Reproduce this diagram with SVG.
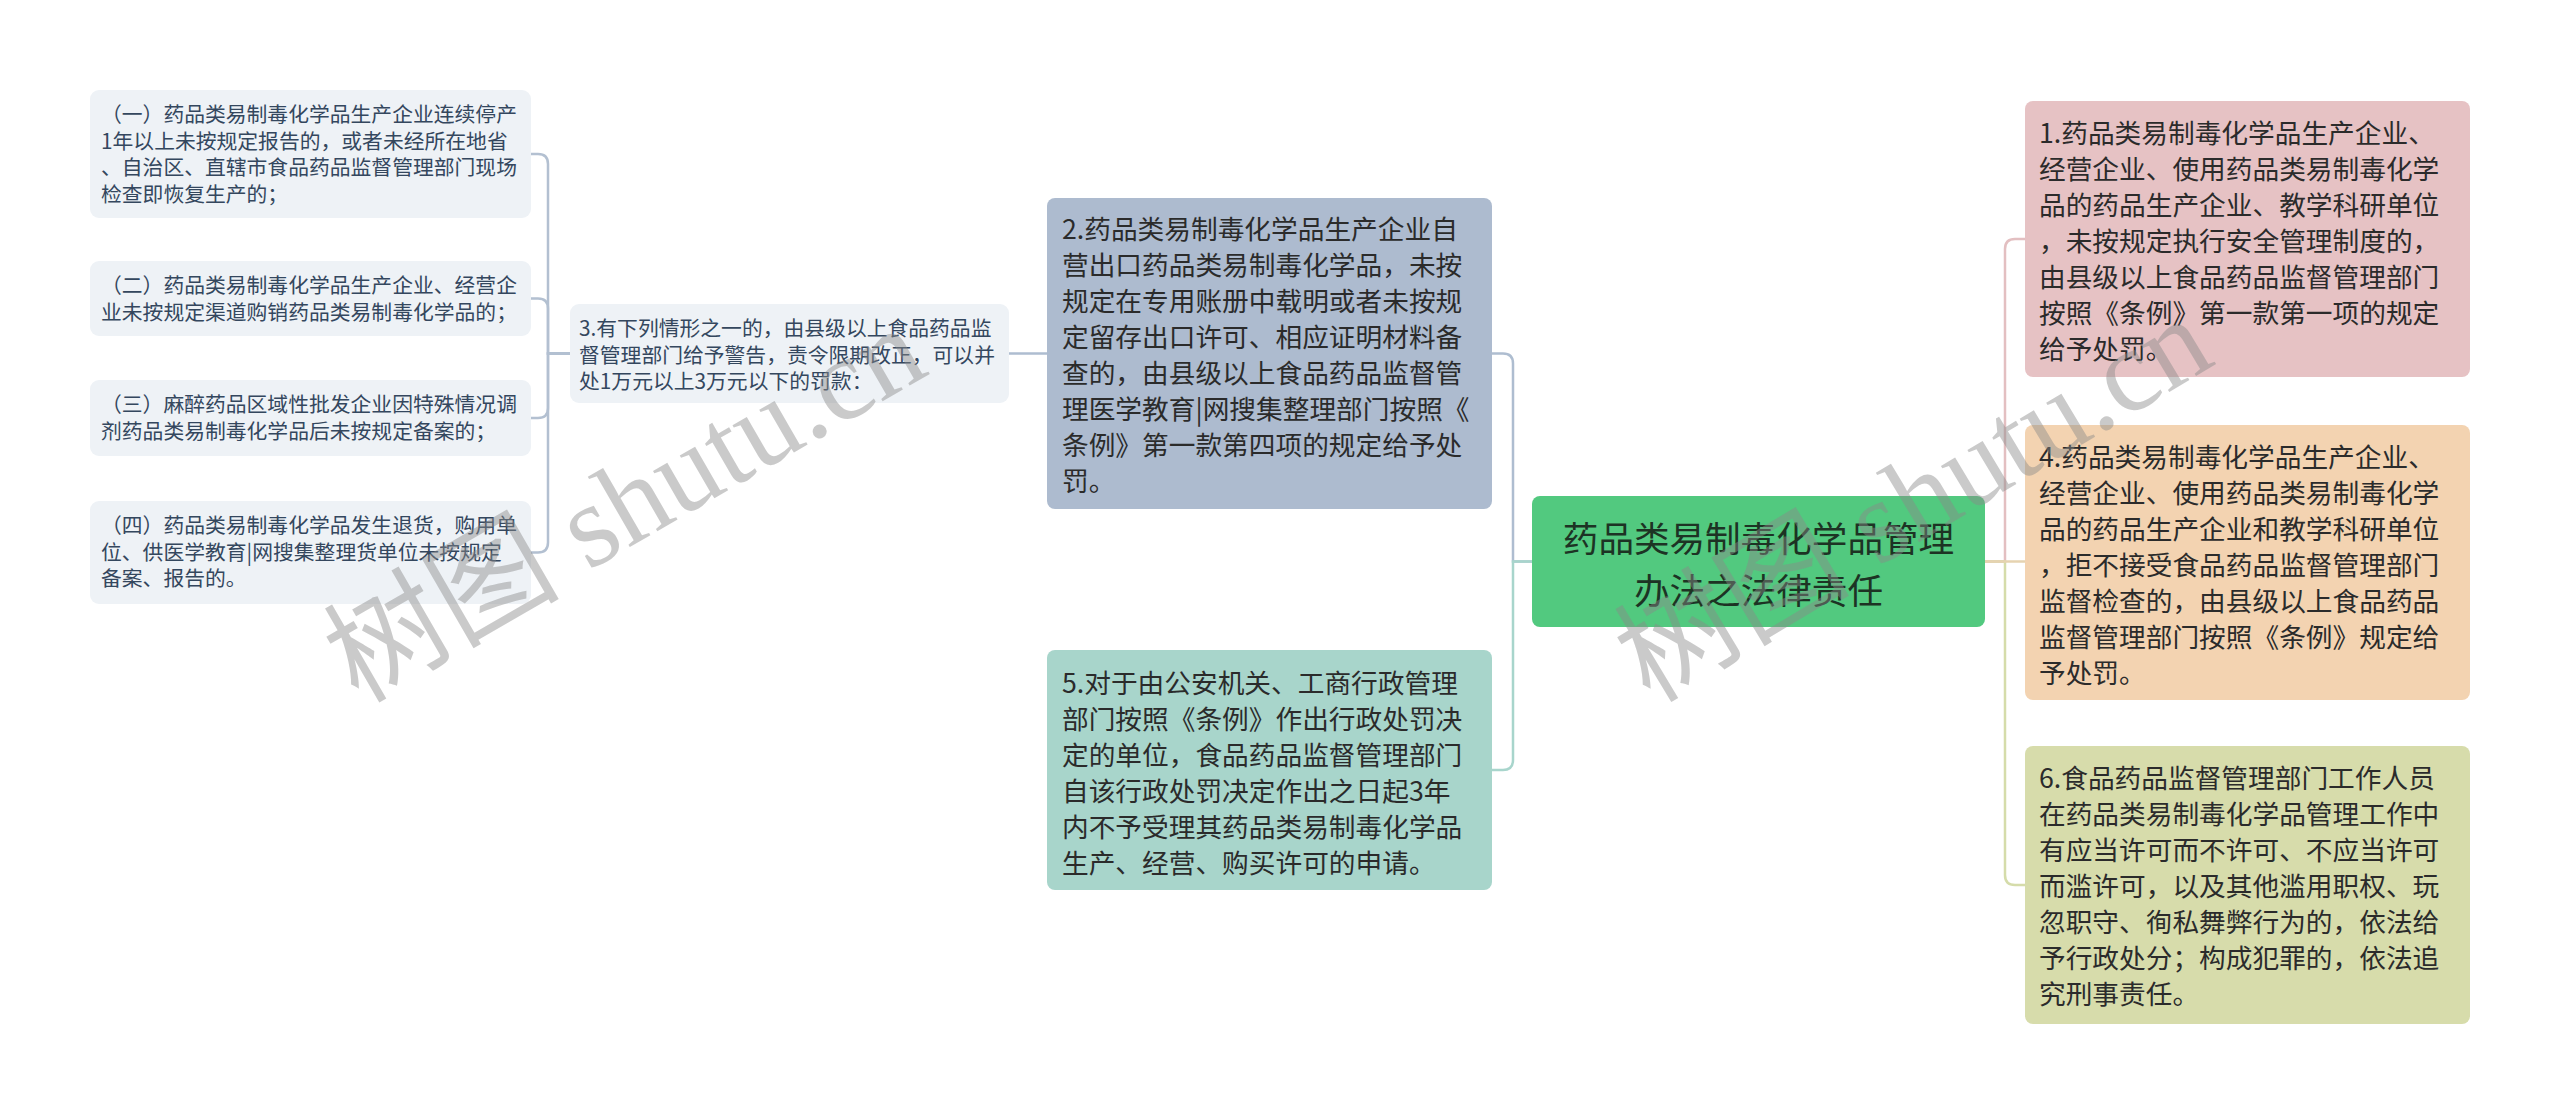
<svg xmlns="http://www.w3.org/2000/svg" width="2560" height="1113" viewBox="0 0 2560 1113">
<style>
.t{font-family:"Noto Sans CJK SC","Noto Sans",sans-serif}
.sm{font-size:20.8px;fill:#34475e}
.md{font-size:26.7px;fill:#2b2b2b}
.lg{font-size:35.6px;fill:#1d3324;text-anchor:middle}
.leaf{fill:#eef2f6}
.c{fill:none;stroke-width:2.5}
.wm{font-family:"Liberation Serif","Noto Sans CJK SC",serif;font-size:118px;fill:#8a8a8a;fill-opacity:0.45}
</style>
<rect width="2560" height="1113" fill="#ffffff"/>
<g id="connectors">
<path class="c" stroke="#b3c0d1" d="M570,353.5 H548 V164 Q548,154 538,154 H531"/>
<path class="c" stroke="#b3c0d1" d="M570,353.5 H548 V308.5 Q548,298.5 538,298.5 H531"/>
<path class="c" stroke="#b3c0d1" d="M570,353.5 H548 V408 Q548,418 538,418 H531"/>
<path class="c" stroke="#b3c0d1" d="M570,353.5 H548 V542.5 Q548,552.5 538,552.5 H531"/>
<path class="c" stroke="#aebdd0" d="M1047,353.5 H1009"/>
<path class="c" stroke="#aebdd0" d="M1532,561.5 H1513 V363.5 Q1513,353.5 1503,353.5 H1492"/>
<path class="c" stroke="#a8d5cc" d="M1532,561.5 H1513 V760 Q1513,770 1503,770 H1492"/>
<path class="c" stroke="#e3bfc1" d="M1985,561.5 H2005 V249 Q2005,239 2015,239 H2025"/>
<path class="c" stroke="#d5dcaa" d="M1985,561.5 H2005 V875 Q2005,885 2015,885 H2025"/>
<path class="c" stroke="#e6d3b0" d="M1985,561.5 H2025"/>
</g>
<g id="n-l1">
<rect class="leaf" x="90" y="90" width="441" height="128" rx="9"/>
<text class="t sm"><tspan x="101" y="122">（一）药品类易制毒化学品生产企业连续停产</tspan><tspan x="101" y="148.5">1年以上未按规定报告的，或者未经所在地省</tspan><tspan x="101" y="175">、自治区、直辖市食品药品监督管理部门现场</tspan><tspan x="101" y="201.5">检查即恢复生产的；</tspan></text>
</g>
<g id="n-l2">
<rect class="leaf" x="90" y="261" width="441" height="75" rx="9"/>
<text class="t sm"><tspan x="101" y="293">（二）药品类易制毒化学品生产企业、经营企</tspan><tspan x="101" y="319.5">业未按规定渠道购销药品类易制毒化学品的；</tspan></text>
</g>
<g id="n-l3">
<rect class="leaf" x="90" y="380" width="441" height="76" rx="9"/>
<text class="t sm"><tspan x="101" y="412">（三）麻醉药品区域性批发企业因特殊情况调</tspan><tspan x="101" y="438.5">剂药品类易制毒化学品后未按规定备案的；</tspan></text>
</g>
<g id="n-l4">
<rect class="leaf" x="90" y="501" width="441" height="103" rx="9"/>
<text class="t sm"><tspan x="101" y="533">（四）药品类易制毒化学品发生退货，购用单</tspan><tspan x="101" y="559.5">位、供医学教育|网搜集整理货单位未按规定</tspan><tspan x="101" y="586">备案、报告的。</tspan></text>
</g>
<g id="n-3">
<rect class="leaf" x="570" y="304" width="439" height="99" rx="9"/>
<text class="t sm"><tspan x="579" y="336">3.有下列情形之一的，由县级以上食品药品监</tspan><tspan x="579" y="362.5">督管理部门给予警告，责令限期改正，可以并</tspan><tspan x="579" y="389">处1万元以上3万元以下的罚款：</tspan></text>
</g>
<g id="n-2">
<rect x="1047" y="198" width="445" height="311" rx="8" fill="#adbbcf"/>
<text class="t md"><tspan x="1062" y="239">2.药品类易制毒化学品生产企业自</tspan><tspan x="1062" y="275">营出口药品类易制毒化学品，未按</tspan><tspan x="1062" y="311">规定在专用账册中载明或者未按规</tspan><tspan x="1062" y="347">定留存出口许可、相应证明材料备</tspan><tspan x="1062" y="383">查的，由县级以上食品药品监督管</tspan><tspan x="1062" y="419">理医学教育|网搜集整理部门按照《</tspan><tspan x="1062" y="455">条例》第一款第四项的规定给予处</tspan><tspan x="1062" y="491">罚。</tspan></text>
</g>
<g id="n-5">
<rect x="1047" y="650" width="445" height="240" rx="8" fill="#a8d5cb"/>
<text class="t md"><tspan x="1062" y="693">5.对于由公安机关、工商行政管理</tspan><tspan x="1062" y="729">部门按照《条例》作出行政处罚决</tspan><tspan x="1062" y="765">定的单位，食品药品监督管理部门</tspan><tspan x="1062" y="801">自该行政处罚决定作出之日起3年</tspan><tspan x="1062" y="837">内不予受理其药品类易制毒化学品</tspan><tspan x="1062" y="873">生产、经营、购买许可的申请。</tspan></text>
</g>
<g id="n-root">
<rect x="1532" y="496" width="453" height="131" rx="8" fill="#52c97f"/>
<text class="t lg"><tspan x="1758.5" y="551.5">药品类易制毒化学品管理</tspan><tspan x="1758.5" y="603.5">办法之法律责任</tspan></text>
</g>
<g id="n-r1">
<rect x="2025" y="101" width="445" height="276" rx="8" fill="#e6c2c4"/>
<text class="t md"><tspan x="2039" y="143">1.药品类易制毒化学品生产企业、</tspan><tspan x="2039" y="179">经营企业、使用药品类易制毒化学</tspan><tspan x="2039" y="215">品的药品生产企业、教学科研单位</tspan><tspan x="2039" y="251">，未按规定执行安全管理制度的，</tspan><tspan x="2039" y="287">由县级以上食品药品监督管理部门</tspan><tspan x="2039" y="323">按照《条例》第一款第一项的规定</tspan><tspan x="2039" y="359">给予处罚。</tspan></text>
</g>
<g id="n-r4">
<rect x="2025" y="425" width="445" height="275" rx="8" fill="#f3d3b1"/>
<text class="t md"><tspan x="2039" y="467">4.药品类易制毒化学品生产企业、</tspan><tspan x="2039" y="503">经营企业、使用药品类易制毒化学</tspan><tspan x="2039" y="539">品的药品生产企业和教学科研单位</tspan><tspan x="2039" y="575">，拒不接受食品药品监督管理部门</tspan><tspan x="2039" y="611">监督检查的，由县级以上食品药品</tspan><tspan x="2039" y="647">监督管理部门按照《条例》规定给</tspan><tspan x="2039" y="683">予处罚。</tspan></text>
</g>
<g id="n-r6">
<rect x="2025" y="746" width="445" height="278" rx="8" fill="#d7dcab"/>
<text class="t md"><tspan x="2039" y="788">6.食品药品监督管理部门工作人员</tspan><tspan x="2039" y="824">在药品类易制毒化学品管理工作中</tspan><tspan x="2039" y="860">有应当许可而不许可、不应当许可</tspan><tspan x="2039" y="896">而滥许可，以及其他滥用职权、玩</tspan><tspan x="2039" y="932">忽职守、徇私舞弊行为的，依法给</tspan><tspan x="2039" y="968">予行政处分；构成犯罪的，依法追</tspan><tspan x="2039" y="1004">究刑事责任。</tspan></text>
</g>
<g id="watermark">
<text class="wm" transform="translate(358,704) rotate(-30)">树图 shutu.cn</text>
<text class="wm" transform="translate(1650,704) rotate(-31)">树图 shutu.cn</text>
</g>
</svg>
